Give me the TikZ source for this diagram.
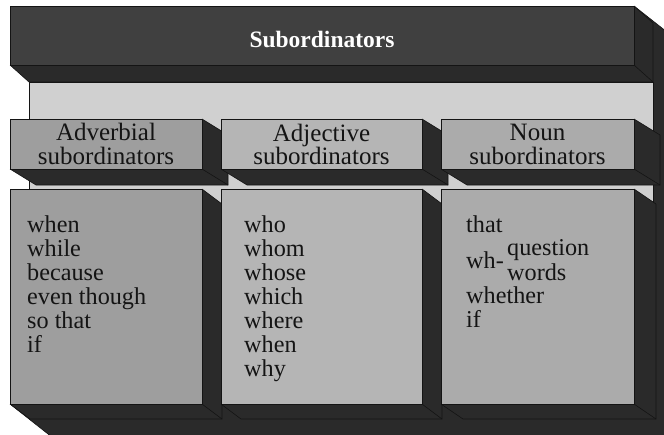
\documentclass[tikz,border=0pt]{standalone}
\usepackage{fontspec}
\setmainfont{Liberation Serif}
\usetikzlibrary{calc}
\definecolor{extc}{HTML}{2A2A2A}
\definecolor{edgec}{HTML}{141414}
\definecolor{titlec}{HTML}{404040}
\definecolor{panelc}{HTML}{D0D0D0}
\definecolor{advc}{HTML}{9E9E9E}
\definecolor{adjc}{HTML}{B5B5B5}
\definecolor{nounc}{HTML}{ABABAB}
\definecolor{txtc}{HTML}{141414}
\newcommand\myxbox[7]{%
  \fill[extc] (#1,#2) -- (#3,#2) -- ($(#3,#2)+(#5,#6)$) -- ($(#3,#4)+(#5,#6)$) -- ($(#1,#4)+(#5,#6)$) -- (#1,#4) -- cycle;
  \draw[edgeline] (#1,#4) -- ($(#1,#4)+(#5,#6)$) -- ($(#3,#4)+(#5,#6)$) -- ($(#3,#2)+(#5,#6)$) -- (#3,#2);
  \draw[edgeline] (#3,#4) -- ($(#3,#4)+(#5,#6)$);
  \filldraw[frontline, fill=#7] (#1,#2) rectangle (#3,#4);}
\begin{document}
\begin{tikzpicture}[x=1pt,y=-1pt,
  edgeline/.style={draw=edgec, line width=0.6pt},
  frontline/.style={draw=edgec, line width=0.6pt},
  lbl/.style={text=txtc, font=\fontsize{24.2}{24}\selectfont, inner sep=0pt},
  item/.style={lbl, anchor=base west},
  head/.style={lbl, font=\fontsize{25}{24}\selectfont, anchor=base}]
\useasboundingbox (0,0) rectangle (664,434);
\clip (0,0) rectangle (664,434);
% big dark base (extrusion of the whole frame)
\fill[extc] (10,404) -- (634,404) -- (634,6) -- (700,58) -- (700,460) -- (81,460) -- cycle;
\draw[edgeline] (634,6) -- (700,58);
\draw[edgeline] (10,404) -- (81,460);
% light panel
\filldraw[frontline, fill=panelc] (29,82) rectangle (653,404);
% title box
\myxbox{10}{6}{634}{65}{19}{17}{titlec}
\node[anchor=base, text=white, font=\fontsize{23.5}{24}\selectfont\bfseries, inner sep=0pt] (title) at (322,47) {Subordinators};
% column headers
\myxbox{10}{119}{202}{169}{26}{16}{advc}
\myxbox{221}{119}{422}{169}{26}{16}{adjc}
\myxbox{441}{119}{634}{169}{26}{16}{nounc}
% content boxes
\myxbox{10}{189}{202}{404}{20}{15}{advc}
\myxbox{221}{189}{422}{404}{20}{15}{adjc}
\myxbox{441}{189}{634}{404}{22}{15}{nounc}
% header texts
\node[head] (advh1) at (106,140) {Adverbial};
\node[head] (advh2) at (106,164) {subordinators};
\node[head] (adjh1) at (321.5,141) {Adjective};
\node[head] (adjh2) at (321.5,164) {subordinators};
\node[head] (nounh1) at (537.5,140) {Noun};
\node[head] (nounh2) at (537.5,164) {subordinators};
% adverbial list
\foreach \w [count=\i] in {when,while,because,even though,so that,if}
  \node[item] (adv\i) at (27,{232+24*(\i-1)}) {\w};
% adjective list
\foreach \w [count=\i] in {who,whom,whose,which,where,when,why}
  \node[item] (adj\i) at (244,{232+24*(\i-1)}) {\w};
% noun list
\node[item] (noun1) at (466,232) {that};
\node[item] (noun2) at (466,268) {wh-};
\node[item] (noun3) at (507,255) {question};
\node[item] (noun4) at (507,280) {words};
\node[item] (noun5) at (466,303) {whether};
\node[item] (noun6) at (466,327) {if};
\end{tikzpicture}
\end{document}
